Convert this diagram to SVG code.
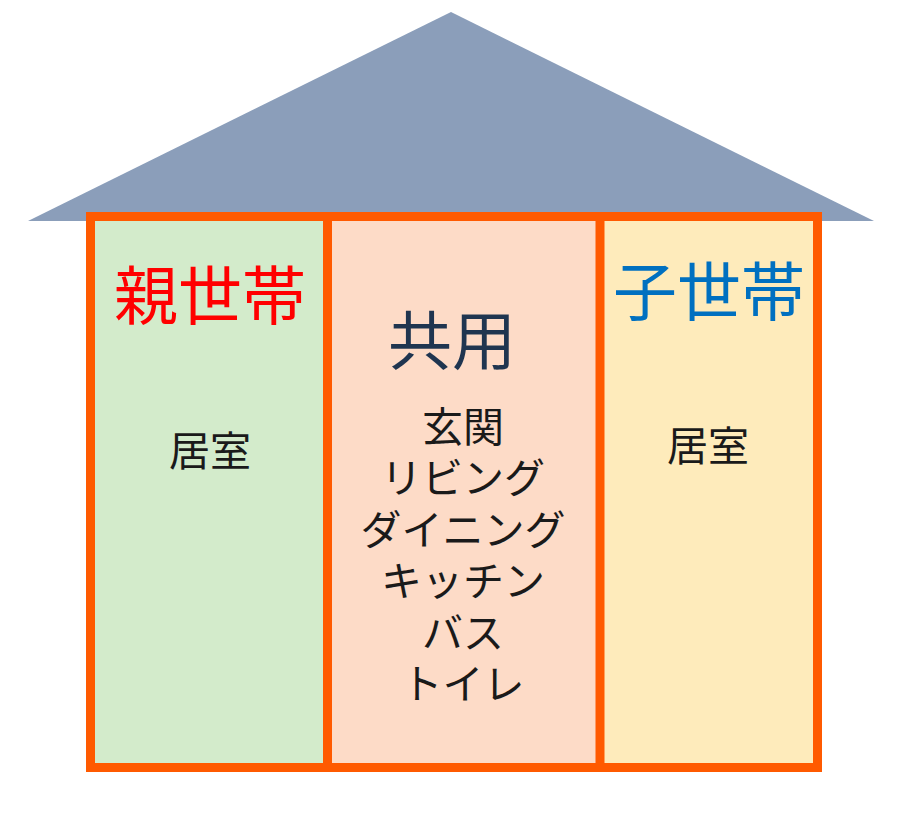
<svg xmlns="http://www.w3.org/2000/svg" width="900" height="817" viewBox="0 0 900 817">
<style>
.t{font-family:"Noto Sans CJK JP","Noto Sans CJK SC",sans-serif;text-anchor:middle}
.big{font-size:64px}
.mid{font-size:41px;fill:#1a1a1a}
.frame{fill:none;stroke:#FF5A00;stroke-width:9}
</style>
<rect width="900" height="817" fill="#ffffff"/>
<g id="roof">
<polygon points="451,12 28,221 874,221" fill="#8B9EBA"/>
</g>
<g id="oya">
<rect x="90.5" y="216.5" width="237" height="551" fill="#D3EBCB"/>
<text class="t big" x="210" y="319" fill="#FF0000">親世帯</text>
<text class="t mid" x="210" y="466">居室</text>
</g>
<g id="kyoyo">
<rect x="327.5" y="216.5" width="272.5" height="551" fill="#FDDBC7"/>
<text class="t big" x="452" y="364" fill="#1F3550">共用</text>
<text class="t mid" x="463" y="442">玄関</text>
<text class="t mid" x="463" y="493">リビング</text>
<text class="t mid" x="463" y="545">ダイニング</text>
<text class="t mid" x="463" y="596">キッチン</text>
<text class="t mid" x="463" y="648">バス</text>
<text class="t mid" x="463" y="699">トイレ</text>
</g>
<g id="ko">
<rect x="600" y="216.5" width="217.5" height="551" fill="#FEEBBB"/>
<text class="t big" x="709" y="315" fill="#0070C0">子世帯</text>
<text class="t mid" x="708" y="461">居室</text>
</g>
<g id="connectors">
<rect class="frame" x="90.5" y="216.5" width="727" height="551"/>
<line class="frame" x1="327.5" y1="216.5" x2="327.5" y2="767.5"/>
<line class="frame" x1="600" y1="216.5" x2="600" y2="767.5"/>
</g>
</svg>
